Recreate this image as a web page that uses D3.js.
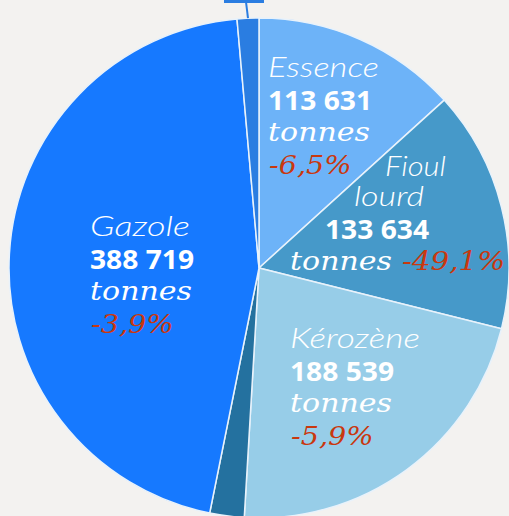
<!DOCTYPE html>
<html>
<head>
<meta charset="utf-8">
<script src="https://cdn.jsdelivr.net/npm/d3@7"></script>
<style>
  html, body { margin: 0; padding: 0; background: #f3f2f0; }
  svg { display: block; }
</style>
</head>
<body>
<svg id="chart"></svg>
<script>
// données (tonnes), dans l'ordre horaire depuis midi
const names = ["Essence", "Fioul lourd", "Kérozène", "Autres", "Gazole", "Divers"];
const tonnes = [113631, 133634, 188539, 19000, 388719, 12000];
const variations = ["-6,5%", "-49,1%", "-5,9%", "", "-3,9%", ""];
const colors = ["#6db3f8", "#4699c9", "#97cde8", "#24719f", "#1679ff", "#2a7de1"];

const W = 509, H = 516;
const cx = 259, cy = 268, radius = 250;

const svg = d3.select("#chart").attr("width", W).attr("height", H);

// fond
svg.append("rect").attr("width", W).attr("height", H).attr("fill", "#f3f2f0");

const g = svg.append("g").attr("transform", `translate(${cx},${cy})`);

const pie = d3.pie().sort(null).value(d => d.v);
const arcs = pie(names.map((n, i) => ({name: n, v: tonnes[i], col: colors[i], pct: variations[i]})));

const arc = d3.arc().innerRadius(0).outerRadius(radius);

g.selectAll("path.slice")
  .data(arcs)
  .enter().append("path")
  .attr("class", "slice")
  .attr("d", arc)
  .attr("fill", d => d.data.col)
  .attr("stroke", "#e8f2fb")
  .attr("stroke-width", 1.5);

// étiquette tronquée en haut (petite tranche)
const last = arcs[arcs.length - 1];
const midA = (last.startAngle + last.endAngle) / 2;
const px = radius * Math.sin(midA), py = -radius * Math.cos(midA);
g.append("line")
  .attr("x1", px).attr("y1", py)
  .attr("x2", px - 2).attr("y2", -cy + 2)
  .attr("stroke", "#2a7de1").attr("stroke-width", 2);
g.append("rect")
  .attr("x", px - 24).attr("y", -cy - 10)
  .attr("width", 40).attr("height", 13)
  .attr("fill", "#2a7de1");

// textes
const nameFont = "Lato, sans-serif";
const numFont = "'Open Sans', 'DejaVu Sans', sans-serif";
const scriptFont = "'DejaVu Serif', serif";
const fmt = v => d3.format(",")(v).replace(/,/g, " ");

// position de chaque bloc de texte (coin gauche de la 1re ligne, par rapport au centre)
const labelPos = {
  "Essence":  {x: 9,    y: -191, lines: ["Essence"], w: [111]},
  "Fioul lourd": {x: 66, y: -92, lines: ["Fioul", "lourd"], indent: [60, 29], w: [61, 70]},
  "Kérozène": {x: 31,   y: 80,  lines: ["Kérozène"], w: [130]},
  "Gazole":   {x: -169, y: -32, lines: ["Gazole"], w: [100]}
};

arcs.forEach(d => {
  const p = labelPos[d.data.name];
  if (!p) return;
  const t = g.append("g");
  let y = p.y;
  p.lines.forEach((ln, k) => {
    t.append("text")
      .attr("x", p.x + (p.indent ? p.indent[k] : 0)).attr("y", y)
      .attr("fill", "#fff")
      .attr("textLength", p.w[k])
      .attr("lengthAdjust", "spacingAndGlyphs")
      .style("font-family", nameFont)
      .style("font-style", "italic")
      .style("font-weight", 300)
      .style("font-size", "27px")
      .text(ln);
    y += (k < p.lines.length - 1) ? 30 : 0;
  });
  y += 33;
  t.append("text")
    .attr("x", p.x).attr("y", y)
    .attr("fill", "#fff")
    .attr("textLength", 104)
    .attr("lengthAdjust", "spacingAndGlyphs")
    .style("font-family", numFont)
    .style("font-weight", 700)
    .style("font-size", "26px")
    .text(fmt(d.data.v));
  y += 31;
  t.append("text")
    .attr("x", p.x - (d.data.name === "Fioul lourd" ? 35 : 0)).attr("y", y)
    .attr("fill", "#fff")
    .style("font-family", scriptFont)
    .style("font-style", "italic")
    .style("font-size", "26px")
    .attr("textLength", 102)
    .attr("lengthAdjust", "spacingAndGlyphs")
    .text("tonnes");
  if (d.data.name === "Fioul lourd") {
    t.append("text")
      .attr("x", p.x + 77).attr("y", y)
      .attr("fill", "#c9380e")
      .style("font-family", scriptFont)
      .style("font-style", "italic")
      .style("font-size", "26px")
      .attr("textLength", 103)
      .attr("lengthAdjust", "spacingAndGlyphs")
      .text(d.data.pct);
  } else {
    t.append("text")
      .attr("x", p.x + 1).attr("y", y + 33)
      .attr("fill", "#c9380e")
      .style("font-family", scriptFont)
      .style("font-style", "italic")
      .style("font-size", "26px")
      .attr("textLength", d.data.pct.length * 16.5)
      .attr("lengthAdjust", "spacingAndGlyphs")
      .text(d.data.pct);
  }
});
</script>
</body>
</html>
